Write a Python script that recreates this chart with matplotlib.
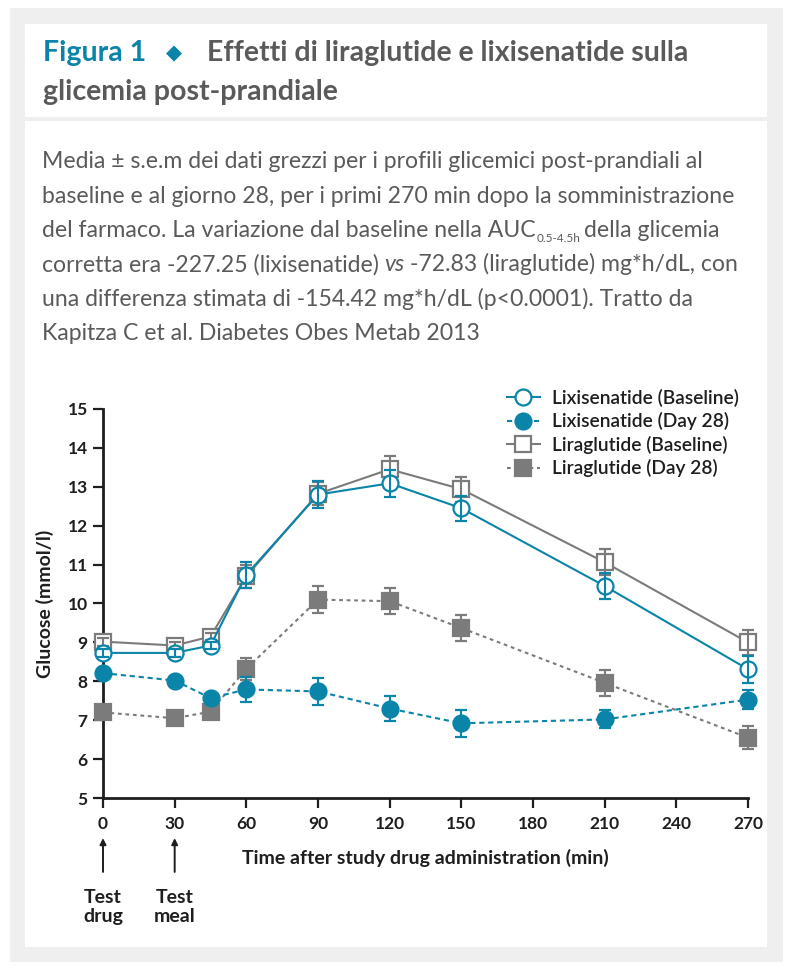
import matplotlib
matplotlib.use('Agg')
import matplotlib.pyplot as plt
from matplotlib.patches import Rectangle

# time after study drug administration (min)
time_min = [0, 30, 45, 60, 90, 120, 150, 210, 270]

# mean glucose (mmol/l) and s.e.m.
lixi_base = [8.73, 8.73, 8.92, 10.74, 12.80, 13.09, 12.45, 10.45, 8.31]
lixi_base_err = [0.1, 0.1, 0.1, 0.33, 0.34, 0.34, 0.32, 0.34, 0.35]
lixi_d28 = [8.21, 8.02, 7.57, 7.79, 7.74, 7.30, 6.92, 7.02, 7.53]
lixi_d28_err = [0.1, 0.1, 0.1, 0.33, 0.34, 0.33, 0.34, 0.23, 0.24]
lira_base = [9.02, 8.92, 9.15, 10.70, 12.82, 13.45, 12.94, 11.06, 9.00]
lira_base_err = [0.1, 0.1, 0.1, 0.30, 0.30, 0.33, 0.32, 0.34, 0.33]
lira_d28 = [7.20, 7.05, 7.22, 8.32, 10.10, 10.06, 9.37, 7.96, 6.55]
lira_d28_err = [0.1, 0.1, 0.1, 0.28, 0.34, 0.33, 0.34, 0.34, 0.29]

series_labels = ['Lixisenatide (Baseline)', 'Lixisenatide (Day 28)',
                 'Liraglutide (Baseline)', 'Liraglutide (Day 28)']
x_ticks = [0, 30, 60, 90, 120, 150, 180, 210, 240, 270]
y_ticks = [5, 6, 7, 8, 9, 10, 11, 12, 13, 14, 15]

title_num = 'Figura 1'
title_line1 = 'Effetti di liraglutide e lixisenatide sulla'
title_line2 = 'glicemia post-prandiale'
caption_lines = [
    'Media ± s.e.m dei dati grezzi per i profili glicemici post-prandiali al',
    'baseline e al giorno 28, per i primi 270 min dopo la somministrazione',
]
caption_l3 = ['del farmaco. La variazione dal baseline nella AUC', '0.5-4.5h', 'della glicemia']
caption_l4 = ['corretta era -227.25 (lixisenatide)', 'vs', '-72.83 (liraglutide) mg*h/dL, con']
caption_tail = [
    'una differenza stimata di -154.42 mg*h/dL (p<0.0001). Tratto da',
    'Kapitza C et al. Diabetes Obes Metab 2013',
]

BLUE = '#0a84a9'
GREY = '#7b7b7b'
TXT = '#5a5a5a'
INK = '#1e1e1e'
FONT = ['Lato', 'DejaVu Sans']

W, H = 798, 980
fig = plt.figure(figsize=(W / 100, H / 100), dpi=100)
fig.patch.set_facecolor('white')

# background axes in pixel units for the panels and the text
bg = fig.add_axes([0, 0, 1, 1])
bg.set_xlim(0, W)
bg.set_ylim(H, 0)
bg.axis('off')
bg.add_patch(Rectangle((10, 8), 773, 954, color='#efefef', lw=0))
bg.add_patch(Rectangle((25, 24), 742, 93, color='white', lw=0))
bg.add_patch(Rectangle((25, 121), 742, 826, color='white', lw=0))

# header
tfs = 20.5
bg.text(43, 61, title_num, color=BLUE, fontsize=tfs, fontweight='bold', family=FONT, va='baseline')
bg.text(174, 53, '◆', color=BLUE, fontsize=15, family=['DejaVu Sans'], ha='center', va='center')
bg.text(207, 61, title_line1, color=TXT, fontsize=tfs, fontweight='bold', family=FONT, va='baseline')
bg.text(43, 100, title_line2, color=TXT, fontsize=tfs, fontweight='bold', family=FONT, va='baseline')

# caption
cap_fs = 16.6
base_y = [168.3, 202.6, 236.9, 271.2, 305.5, 339.8]
for i, line in enumerate(caption_lines):
    bg.text(42, base_y[i], line, color=TXT, fontsize=cap_fs, family=FONT, va='baseline')

t = bg.text(42, base_y[2], caption_l3[0], color=TXT, fontsize=cap_fs, family=FONT, va='baseline')
s = bg.annotate(caption_l3[1], xy=(1, 0), xycoords=t, xytext=(0.5, -2), textcoords='offset points',
                color=TXT, fontsize=8.5, family=FONT, va='bottom')
bg.annotate(caption_l3[2], xy=(1, 0), xycoords=s, xytext=(3, 2), textcoords='offset points',
            color=TXT, fontsize=cap_fs, family=FONT, va='bottom')

t = bg.text(42, base_y[3], caption_l4[0], color=TXT, fontsize=cap_fs, family=FONT, va='baseline')
s = bg.annotate(caption_l4[1], xy=(1, 0), xycoords=t, xytext=(4, 0), textcoords='offset points',
                color=TXT, fontsize=cap_fs, family=FONT, style='italic', va='bottom')
bg.annotate(caption_l4[2], xy=(1, 0), xycoords=s, xytext=(4, 0), textcoords='offset points',
            color=TXT, fontsize=cap_fs, family=FONT, va='bottom')

for i, line in enumerate(caption_tail):
    bg.text(42, base_y[4 + i], line, color=TXT, fontsize=cap_fs, family=FONT, va='baseline')

# main plot
ax = fig.add_axes([103 / W, 1 - 798 / H, 645 / W, 389 / H])
ax.set_zorder(2)
ax.patch.set_alpha(0)

series = [
    (lira_d28, lira_d28_err, series_labels[3], GREY, 's', GREY, (0, (1.8, 1.8)), 3),
    (lira_base, lira_base_err, series_labels[2], GREY, 's', 'white', '-', 4),
    (lixi_d28, lixi_d28_err, series_labels[1], BLUE, 'o', BLUE, (0, (2.5, 1.8)), 5),
    (lixi_base, lixi_base_err, series_labels[0], BLUE, 'o', 'white', '-', 6),
]
handles = {}
for y, err, lab, col, mk, mfc, ls, z in series:
    ms = 11.5 if mk == 'o' else 11
    eb = ax.errorbar(time_min, y, yerr=err, color=col, marker=mk, ms=ms, mfc=mfc, mec=col, mew=1.6,
                     lw=1.5, ls=ls, capsize=4.5, elinewidth=1.5, capthick=1.5, zorder=z)
    parts = [eb.lines[0]] + list(eb.lines[1]) + list(eb.lines[2])
    for p in parts:
        p.set_clip_on(False)
        p.set_zorder(z)
    handles[lab] = eb.lines[0]

ax.set_xlim(0, 270)
ax.set_ylim(5, 15)
ax.set_xticks(x_ticks)
ax.set_yticks(y_ticks)
for sp in ['top', 'right']:
    ax.spines[sp].set_visible(False)
for sp in ['left', 'bottom']:
    ax.spines[sp].set_linewidth(2)
    ax.spines[sp].set_color(INK)
ax.tick_params(direction='out', length=7, width=1.6, color=INK, labelcolor=INK)
ax.tick_params(axis='x', pad=6)
ax.tick_params(axis='y', pad=4)
for lbl in ax.get_xticklabels() + ax.get_yticklabels():
    lbl.set_family(FONT)
    lbl.set_fontweight('bold')
    lbl.set_fontsize(12.5)

ax.set_ylabel('Glucose (mmol/l)', family=FONT, fontweight='bold', fontsize=14, color=INK, labelpad=10)
ax.set_xlabel('Time after study drug administration (min)', family=FONT, fontweight='bold',
              fontsize=14, color=INK, labelpad=12)

leg = ax.legend([handles[l] for l in series_labels], series_labels, loc='upper left',
                bbox_to_anchor=(507, 389), bbox_transform=bg.transData, frameon=False,
                borderpad=0, borderaxespad=0, handlelength=1.7, handletextpad=0.65,
                labelspacing=0.28, prop={'family': FONT, 'size': 13.8, 'weight': 'semibold'})
for txt in leg.get_texts():
    txt.set_color(INK)

# arrows for test drug and test meal
for xm, lab in [(0, 'Test\ndrug'), (30, 'Test\nmeal')]:
    ax.annotate('', xy=(xm, -0.103), xycoords=('data', 'axes fraction'), xytext=(xm, -0.19),
                textcoords=('data', 'axes fraction'),
                arrowprops=dict(arrowstyle='-|>', color=INK, lw=1.4, mutation_scale=9, shrinkA=0, shrinkB=0))
    ax.text(xm, -0.28, lab, transform=ax.get_xaxis_transform(), ha='center', va='center',
            family=FONT, fontweight='bold', fontsize=14, color=INK, linespacing=1.1)

fig.savefig('out.png', dpi=100)
